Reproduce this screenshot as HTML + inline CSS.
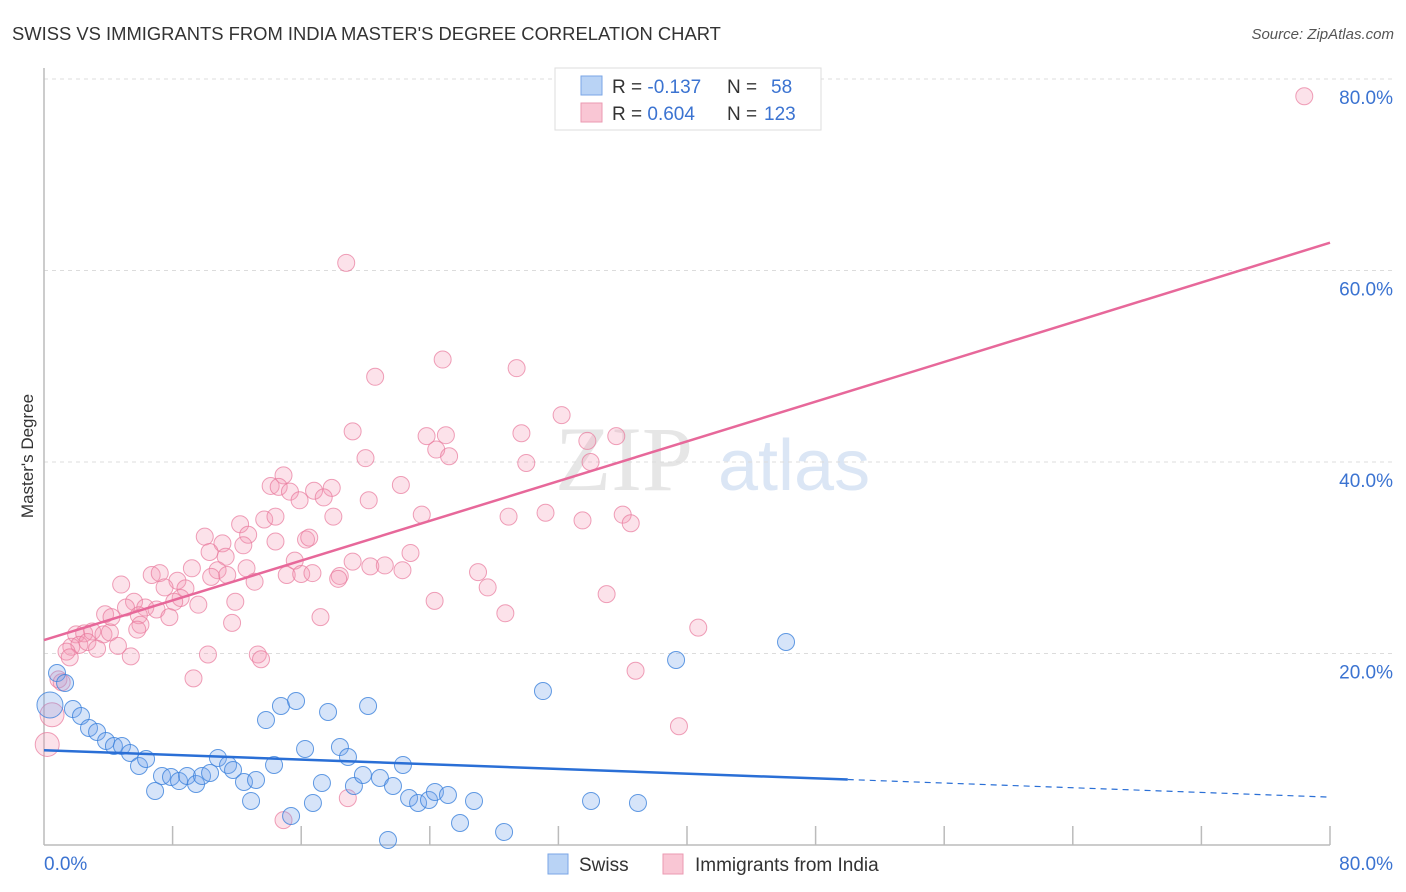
<!DOCTYPE html>
<html><head><meta charset="utf-8"><style>
body{margin:0;background:#fff;font-family:"Liberation Sans",sans-serif}
svg{display:block}
</style></head><body>
<svg id="chart" width="1406" height="892">
<text x="12" y="40" font-size="18.4" fill="#333">SWISS VS IMMIGRANTS FROM INDIA MASTER'S DEGREE CORRELATION CHART</text>
<text x="1394" y="39" font-size="15" fill="#555" font-style="italic" text-anchor="end">Source: ZipAtlas.com</text>
<text transform="translate(33,456) rotate(-90)" font-size="17" fill="#333" text-anchor="middle">Master's Degree</text>
<g><text x="555" y="490" font-size="92" font-family="Liberation Serif,serif" fill="#e6e6e6">ZIP</text><text x="718" y="490" font-size="72" fill="#dbe6f5">atlas</text></g>
<g id="grid"></g><g id="axes"></g><g id="pts"></g><g id="lines"></g>
<g>
<rect x="555" y="68" width="266" height="62" fill="#fff" stroke="#ddd"/>
<rect x="581" y="76" width="21" height="19" fill="#b9d3f5" stroke="#7aa6e6"/>
<rect x="581" y="103" width="21" height="19" fill="#f9c6d4" stroke="#eb9ab2"/>
<text x="612" y="93" font-size="19" fill="#333">R = <tspan fill="#3b73d1">-0.137</tspan><tspan x="727">N = </tspan><tspan x="771" fill="#3b73d1">58</tspan></text>
<text x="612" y="120" font-size="19" fill="#333">R = <tspan fill="#3b73d1">0.604</tspan><tspan x="727">N = </tspan><tspan x="764" fill="#3b73d1">123</tspan></text>
</g>
<g>
<rect x="548" y="854" width="20" height="20" fill="#b9d3f5" stroke="#7aa6e6"/>
<text x="579" y="871" font-size="19" fill="#333">Swiss</text>
<rect x="663" y="854" width="20" height="20" fill="#f9c6d4" stroke="#eb9ab2"/>
<text x="695" y="871" font-size="19" fill="#333">Immigrants from India</text>
</g>
</svg>
<script>
const yTicks=[20,40,60,80];
const yTickLabels=["20.0%","40.0%","60.0%","80.0%"];
const swissX=[0.81,1.31,0.37,1.80,2.30,2.80,3.30,3.86,4.35,4.85,5.35,5.91,6.35,6.91,7.34,7.90,8.40,8.90,9.46,9.83,10.33,10.82,11.45,11.76,12.44,12.88,13.19,13.81,14.31,14.74,15.37,15.68,16.24,16.73,17.29,17.67,18.41,18.91,19.28,19.84,20.16,20.90,21.71,22.33,22.71,23.27,23.95,24.32,25.13,25.88,26.75,28.62,31.04,34.03,36.95,39.32,46.16,21.40];
const swissY=[17.96,16.92,14.62,14.20,13.47,12.22,11.80,10.86,10.34,10.34,9.61,8.25,8.98,5.64,7.21,7.10,6.68,7.21,6.37,7.21,7.52,9.09,8.36,7.83,6.58,4.60,6.79,13.05,8.36,14.52,3.03,15.04,10.03,4.39,6.48,13.89,10.23,9.19,6.16,7.31,14.52,7.00,6.16,8.36,4.91,4.39,4.70,5.54,5.22,2.30,4.60,1.36,16.08,4.60,4.39,19.32,21.20,0.52];
const indiaX=[78.4,18.8,24.8,29.4,20.6,32.2,19.2,23.8,25.0,29.7,33.8,35.6,24.4,25.2,20.0,30.0,34.0,14.9,14.1,22.2,14.6,15.3,16.8,17.9,17.4,15.9,20.2,23.5,28.9,31.2,33.5,36.0,36.5,13.7,18.0,12.2,10.0,12.7,14.4,16.3,16.5,12.4,11.1,10.3,11.3,19.2,22.8,15.6,9.2,10.8,12.6,20.3,21.2,15.1,16.0,16.7,22.3,18.4,18.3,27.0,6.7,7.2,8.3,4.8,7.5,8.8,13.1,27.6,35.0,24.3,5.6,5.1,6.3,3.8,4.2,8.5,8.1,9.6,11.9,7.0,5.9,7.8,6.0,11.7,17.2,28.7,2.0,2.5,3.0,3.7,4.1,5.8,4.6,1.7,2.2,2.7,3.3,1.4,1.6,5.4,10.2,13.3,13.5,40.7,36.8,9.3,0.9,1.1,0.5,0.2,39.5,18.9,14.9,10.4,11.4,14.4];
const indiaY=[78.2,60.8,50.7,49.8,48.9,44.9,43.2,42.7,42.8,43.0,42.2,42.7,41.3,40.6,40.4,39.9,40.0,38.6,37.5,37.6,37.4,36.9,37.0,37.3,36.3,36.0,36.0,34.5,34.3,34.7,33.9,34.5,33.6,34.0,34.3,33.5,32.2,32.4,31.7,31.9,32.1,31.3,31.5,30.6,30.1,29.6,30.5,29.7,28.9,28.7,28.9,29.1,29.2,28.2,28.3,28.4,28.7,28.1,27.8,28.5,28.2,28.4,27.6,27.2,26.9,26.8,27.5,26.9,26.2,25.5,25.4,24.8,24.8,24.1,23.8,25.8,25.4,25.1,25.4,24.6,24.0,23.8,23.0,23.2,23.8,24.2,22.0,22.1,22.3,22.0,22.2,22.5,20.8,20.7,20.9,21.2,20.5,20.2,19.6,19.7,19.9,19.9,19.4,22.7,18.2,17.4,17.3,17.0,13.6,10.5,12.4,4.9,2.6,28.0,28.2,34.3];
const swissTrend=[9.9,5.0];
const indiaTrend=[21.4,62.9];
const X0=44,X1=1330,Y0=845,Y1=79;
const sx=v=>X0+(v/80)*(X1-X0);
const sy=v=>Y0-(v/80)*(Y0-Y1);
const NS="http://www.w3.org/2000/svg";
function mk(tag,attrs,parent){const e=document.createElementNS(NS,tag);for(const k in attrs)e.setAttribute(k,attrs[k]);document.getElementById(parent).appendChild(e);return e;}
yTicks.forEach((t,i)=>{
  const g=mk('line',{x1:44,x2:1393,y1:sy(t),y2:sy(t),stroke:'#dcdcdc','stroke-dasharray':'4,4'},'grid');
  
  
  const tx=mk('text',{x:1393,y:sy(t)+25,'font-size':19,fill:'#3b73d1','text-anchor':'end'},'grid');
  tx.textContent=yTickLabels[i];
  
  
});
let ax=mk('line',{x1:44,x2:44,y1:68,y2:845,stroke:'#bbb','stroke-width':1.5},'axes');


let bx=mk('line',{x1:44,x2:1330,y1:845,y2:845,stroke:'#bbb','stroke-width':1.5},'axes');


for(let i=1;i<=10;i++){const v=i*8;const t=mk('line',{x1:sx(v),x2:sx(v),y1:826,y2:845,stroke:'#bbb','stroke-width':1.5},'axes');

}
let l0=mk('text',{x:44,y:870,'font-size':19,fill:'#3b73d1'},'axes');l0.textContent='0.0%';


let l1=mk('text',{x:1393,y:870,'font-size':19,fill:'#3b73d1','text-anchor':'end'},'axes');l1.textContent='80.0%';


indiaX.forEach((x,i)=>{const r=(x<1&&indiaY[i]<16)?12:8.5;
 const c=mk('circle',{cx:sx(x),cy:sy(indiaY[i]),r:r,fill:'rgba(244,150,178,0.28)',stroke:'rgba(232,120,155,0.7)','stroke-width':1},'pts');
 
 });
swissX.forEach((x,i)=>{const r=(x<0.5)?13:8.5;
 const c=mk('circle',{cx:sx(x),cy:sy(swissY[i]),r:r,fill:'rgba(120,165,235,0.3)',stroke:'rgba(60,130,220,0.8)','stroke-width':1},'pts');
 
 });
const sAt=v=>swissTrend[0]+(swissTrend[1]-swissTrend[0])*v/80;
let s1=mk('line',{x1:sx(0),y1:sy(sAt(0)),x2:sx(50),y2:sy(sAt(50)),stroke:'#2a6fd6','stroke-width':2.5},'lines');


let s2=mk('line',{x1:sx(50),y1:sy(sAt(50)),x2:sx(80),y2:sy(sAt(80)),stroke:'#2a6fd6','stroke-width':1.2,'stroke-dasharray':'6,5'},'lines');


let p1=mk('line',{x1:sx(0),y1:sy(indiaTrend[0]),x2:sx(80),y2:sy(indiaTrend[1]),stroke:'#e7689a','stroke-width':2.5},'lines');


</script>
</body></html>
